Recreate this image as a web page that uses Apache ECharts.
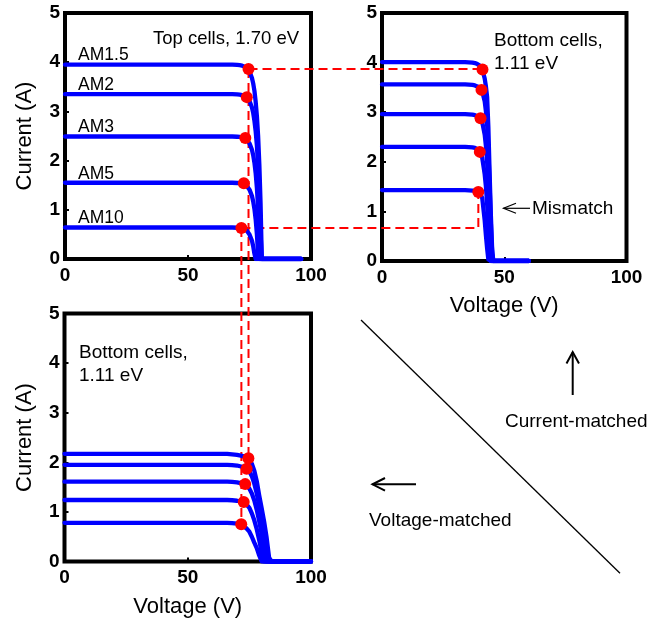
<!DOCTYPE html>
<html><head><meta charset="utf-8">
<script src="https://cdn.jsdelivr.net/npm/echarts@6/dist/echarts.min.js"></script>
<style>html,body{margin:0;padding:0;background:#fff}#c{width:662px;height:626px}</style>
</head><body><div id="c"></div>
<script>
// ---------- data ----------
// Top cells, 1.70 eV (top-left panel)
const topV    = [0, 60, 66, 68, 70, 71, 72, 73, 74, 75, 76, 76.5, 77, 77.5, 78, 78.5, 79, 79.5, 80, 96];
const topAM15 = [3.95, 3.95, 3.95, 3.95, 3.945, 3.94, 3.93, 3.91, 3.88, 3.81, 3.68, 3.57, 3.42, 3.20, 2.91, 2.50, 1.92, 1.12, 0, 0];
const topAM2  = [3.35, 3.35, 3.35, 3.35, 3.345, 3.34, 3.33, 3.31, 3.28, 3.21, 3.08, 2.97, 2.81, 2.60, 2.31, 1.89, 1.32, 0.52, 0, 0];
const topAM3  = [2.49, 2.49, 2.49, 2.49, 2.485, 2.48, 2.47, 2.45, 2.42, 2.35, 2.22, 2.11, 1.96, 1.75, 1.45, 1.04, 0.47, 0, 0, 0];
const topAM5  = [1.55, 1.55, 1.55, 1.55, 1.545, 1.54, 1.53, 1.51, 1.48, 1.41, 1.28, 1.17, 1.02, 0.81, 0.51, 0.10, 0, 0, 0, 0];
const topAM10 = [0.64, 0.64, 0.64, 0.64, 0.635, 0.63, 0.62, 0.60, 0.57, 0.50, 0.37, 0.26, 0.11, 0, 0, 0, 0, 0, 0, 0];
const amLabels = ['AM1.5', 'AM2', 'AM3', 'AM5', 'AM10'];
const topDotV = [74.6, 73.9, 73.3, 72.7, 71.7];
const topDotI = [3.86, 3.29, 2.46, 1.54, 0.63];

// Bottom cells, 1.11 eV, current-matched (top-right panel)
const cmV  = [0, 34, 37, 38, 39, 40, 41, 42, 42.5, 43, 43.5, 44, 44.5, 45, 45.5, 60];
const cm1  = [4.01, 4.01, 4.00, 3.99, 3.97, 3.94, 3.87, 3.68, 3.52, 3.30, 2.70, 1.80, 0.96, 0.30, 0, 0];
const cm2  = [3.56, 3.56, 3.55, 3.54, 3.52, 3.49, 3.42, 3.22, 3.02, 2.75, 2.25, 1.55, 0.80, 0.15, 0, 0];
const cm3  = [2.96, 2.96, 2.95, 2.94, 2.92, 2.89, 2.80, 2.55, 2.32, 2.00, 1.50, 0.85, 0.15, 0, 0, 0];
const cm4  = [2.30, 2.30, 2.29, 2.28, 2.25, 2.20, 2.08, 1.75, 1.50, 1.15, 0.72, 0.22, 0, 0, 0, 0];
const cm5  = [1.43, 1.43, 1.42, 1.42, 1.40, 1.37, 1.27, 0.82, 0.52, 0.25, 0.03, 0, 0, 0, 0, 0];
const cmDotV = [41.1, 40.7, 40.3, 40.0, 39.4];
const cmDotI = [3.86, 3.45, 2.88, 2.20, 1.39];

// Bottom cells, 1.11 eV, voltage-matched (bottom-left panel)
const vmV  = [0, 60, 66, 68, 70, 72, 74, 75, 76, 77, 78, 79, 80, 81, 82, 83, 84, 100];
const vm1  = [2.17, 2.17, 2.17, 2.16, 2.15, 2.13, 2.10, 2.06, 1.97, 1.83, 1.62, 1.33, 1.07, 0.80, 0.48, 0.08, 0, 0];
const vm2  = [1.95, 1.95, 1.95, 1.945, 1.935, 1.91, 1.87, 1.82, 1.72, 1.57, 1.37, 1.12, 0.85, 0.55, 0.18, 0, 0, 0];
const vm3  = [1.61, 1.61, 1.61, 1.605, 1.595, 1.575, 1.53, 1.47, 1.37, 1.23, 1.04, 0.81, 0.55, 0.24, 0, 0, 0, 0];
const vm4  = [1.24, 1.24, 1.24, 1.235, 1.225, 1.205, 1.14, 1.08, 0.97, 0.83, 0.65, 0.43, 0.18, 0, 0, 0, 0, 0];
const vm5  = [0.78, 0.78, 0.78, 0.775, 0.765, 0.74, 0.66, 0.60, 0.50, 0.38, 0.27, 0.12, 0, 0, 0, 0, 0, 0];
const vmDotV = [74.6, 73.9, 73.3, 72.7, 71.7];
const vmDotI = [2.08, 1.87, 1.56, 1.20, 0.75];

// axis ticks
const xTicks = {min: 0, max: 100, interval: 50};
const yTicks = {min: 0, max: 5, interval: 1};

// ---------- chart ----------
const FONT = '"Liberation Sans", Arial, Helvetica, sans-serif';
const BLUE = '#0000ff', RED = '#ff0000';
const chart = echarts.init(document.getElementById('c'), null, {renderer: 'canvas'});

const gridDefs = [
  {left: 65,   top: 13,    width: 246,   height: 246},
  {left: 382,  top: 13,    width: 244.5, height: 248},
  {left: 64.5, top: 313.5, width: 246.5, height: 248}
];
const grid = gridDefs.map(g => Object.assign({show: true, borderColor: '#000', borderWidth: 4, backgroundColor: 'transparent', containLabel: false}, g));

const tickLabel = {color: '#000', fontFamily: FONT, fontWeight: 'bold', fontSize: 19};
const xNames = ['', 'Voltage (V)', 'Voltage (V)'];
const yNames = ['Current (A)', '', 'Current (A)'];

const xAxis = [0, 1, 2].map(i => ({
  type: 'value', gridIndex: i, min: xTicks.min, max: xTicks.max, interval: xTicks.interval,
  axisLine: {show: false}, splitLine: {show: false},
  axisTick: {show: true, inside: true, length: 4, lineStyle: {color: '#000', width: 2}},
  axisLabel: Object.assign({margin: 7}, tickLabel),
  name: xNames[i], nameLocation: 'middle', nameGap: 34,
  nameTextStyle: {color: '#000', fontFamily: FONT, fontSize: 22}
}));
const yAxis = [0, 1, 2].map(i => ({
  type: 'value', gridIndex: i, min: yTicks.min, max: yTicks.max, interval: yTicks.interval,
  axisLine: {show: false}, splitLine: {show: false},
  axisTick: {show: true, inside: true, length: 4, lineStyle: {color: '#000', width: 2}},
  axisLabel: Object.assign({margin: 5}, tickLabel),
  name: yNames[i], nameLocation: 'middle', nameGap: 29,
  nameTextStyle: {color: '#000', fontFamily: FONT, fontSize: 22}
}));

function curve(V, I, gi) {
  return {type: 'line', xAxisIndex: gi, yAxisIndex: gi, data: V.map((v, k) => [v, I[k]]),
    symbol: 'none', showSymbol: false, smooth: false, silent: true, z: 3,
    lineStyle: {color: BLUE, width: 4.3, cap: 'round', join: 'round'}};
}
function dots(V, I, gi) {
  return {type: 'scatter', xAxisIndex: gi, yAxisIndex: gi, data: V.map((v, k) => [v, I[k]]),
    symbol: 'circle', symbolSize: 12, silent: true, z: 5, itemStyle: {color: RED, opacity: 1}};
}

const series = [];
[topAM15, topAM2, topAM3, topAM5, topAM10].forEach(c => series.push(curve(topV, c, 0)));
[cm1, cm2, cm3, cm4, cm5].forEach(c => series.push(curve(cmV, c, 1)));
[vm1, vm2, vm3, vm4, vm5].forEach(c => series.push(curve(vmV, c, 2)));
series.push(dots(topDotV, topDotI, 0));
series.push(dots(cmDotV, cmDotI, 1));
series.push(dots(vmDotV, vmDotI, 2));

chart.setOption({animation: false, backgroundColor: '#fff', grid, xAxis, yAxis, series});

// ---------- connecting dashed lines & annotations ----------
const px = (gi, p) => chart.convertToPixel({gridIndex: gi}, p);
const tl = topDotV.map((v, k) => px(0, [v, topDotI[k]]));
const tr = cmDotV.map((v, k) => px(1, [v, cmDotI[k]]));
const bl = vmDotV.map((v, k) => px(2, [v, vmDotI[k]]));

const dash = pts => ({type: 'polyline', z: 2, silent: true, shape: {points: pts},
  style: {stroke: RED, lineWidth: 2, lineDash: [9, 5], fill: null}});
const txt = (s, x, y, size) => ({type: 'text', z: 10, silent: true, x, y,
  style: {text: s, font: size + 'px ' + FONT, fill: '#000', textAlign: 'left', textVerticalAlign: 'middle', verticalAlign: 'middle'}});
const ln = (pts, w) => ({type: 'polyline', z: 10, silent: true, shape: {points: pts},
  style: {stroke: '#000', lineWidth: w, fill: null}});

const g = [];
const last = topDotV.length - 1;
// current-matched connection (top AM1.5 -> bottom cell)
g.push(dash([tl[0], [tr[0][0], tl[0][1]]]));
// AM10 mismatch connection
g.push(dash([tl[last], [tr[last][0], tl[last][1]], tr[last]]));
// voltage-matched verticals
g.push(dash([tl[0], [tl[0][0], bl[0][1]]]));
g.push(dash([tl[last], [tl[last][0], bl[last][1]]]));

// AM labels just above each top-cell curve
const topCurves = [topAM15, topAM2, topAM3, topAM5, topAM10];
topCurves.forEach((c, k) => {
  const p = px(0, [5.3, c[0]]);
  g.push(txt(amLabels[k], p[0], p[1] - 9, 17.5));
});

g.push(txt('Top cells, 1.70 eV', 153, 39, 18.5));
g.push(txt('Bottom cells,', 494, 41, 19));
g.push(txt('1.11 eV', 494, 63.5, 19));
g.push(txt('Bottom cells,', 79, 353, 19));
g.push(txt('1.11 eV', 79, 376, 19));
g.push(txt('Mismatch', 532, 208.5, 19));
g.push(txt('Current-matched', 505, 421.7, 19));
g.push(txt('Voltage-matched', 369, 520.7, 19));

// arrows and diagonal
g.push(ln([[530, 208.3], [503.5, 208.3]], 1.2));
g.push(ln([[516, 203.3], [503.5, 208.3], [516, 213.3]], 1.2));
g.push(ln([[572.7, 395], [572.7, 352]], 2));
g.push(ln([[566.5, 363.5], [572.7, 352], [579, 363.5]], 2));
g.push(ln([[416, 484.3], [372.5, 484.3]], 2));
g.push(ln([[385, 478], [372.5, 484.3], [385, 490.6]], 2));
g.push(ln([[361, 320], [620, 573.3]], 1.3));

chart.setOption({graphic: {elements: g}});
</script></body></html>
